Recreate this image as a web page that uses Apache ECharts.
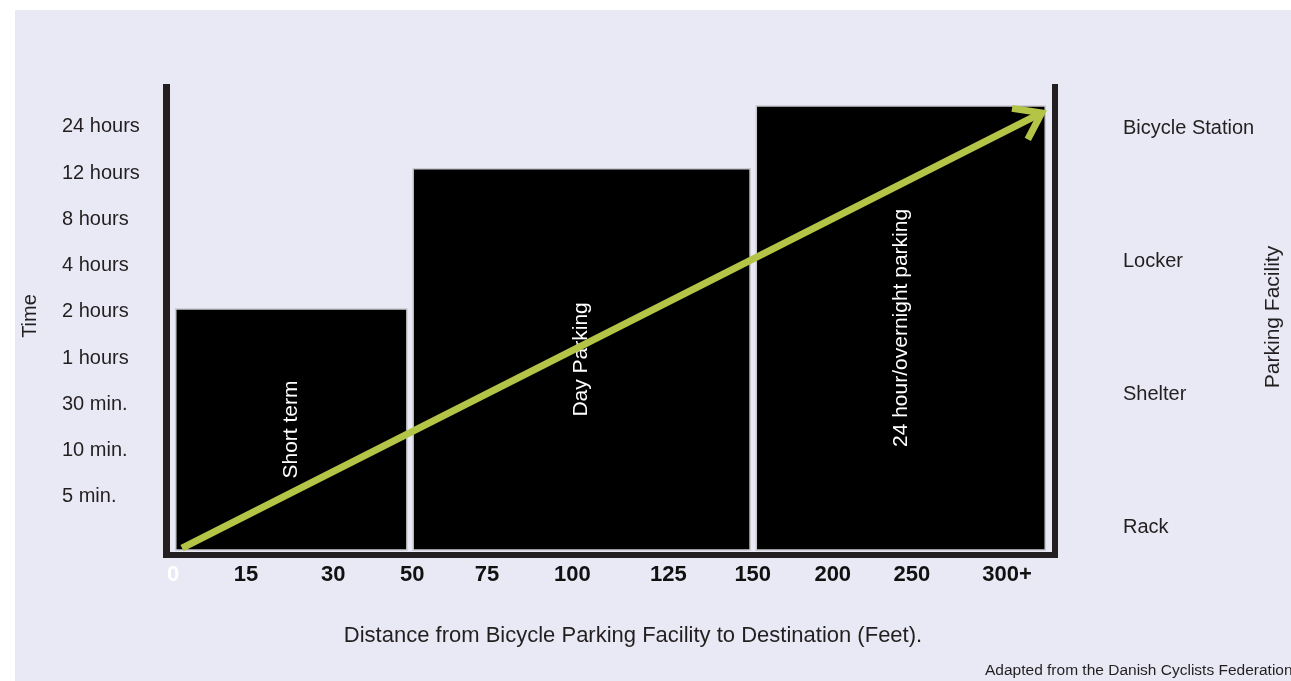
<!DOCTYPE html>
<html>
<head>
<meta charset="utf-8">
<script src="https://cdn.jsdelivr.net/npm/echarts@6/dist/echarts.min.js"></script>
<style>
html,body{margin:0;padding:0;background:#fff;}
#chart{width:1291px;height:681px;}
</style>
</head>
<body>
<div id="chart"></div>
<script>
// ---- data ----
const xTickLabels = ['0','15','30','50','75','100','125','150','200','250','300+'];
// where each distance label sits along the (non-linear) distance axis, in axis units 0..10
const xTickPos = [0.08, 0.90, 1.88, 2.77, 3.61, 4.57, 5.65, 6.60, 7.50, 8.39, 9.46];
const timeLabels = ['5 min.','10 min.','30 min.','1 hours','2 hours','4 hours','8 hours','12 hours','24 hours']; // levels 1..9
const facilityLabels = ['Rack','Shelter','Locker','Bicycle Station']; // levels 0..3
const zoneNames = ['Short term','Day Parking','24 hour/overnight parking'];
const zoneStart = [0.11, 2.78, 6.64];
const zoneEnd = [2.71, 6.57, 9.89];
const zoneTop = [5.06, 8.09, 9.45];
const arrowFrom = [0.18, -0.11];
const arrowTo = [9.85, 9.30];

const TXT = '#231f20';
const FONT = '"Liberation Sans", Arial, Helvetica, sans-serif';
const barBase = -0.15;

const chart = echarts.init(document.getElementById('chart'), null, {renderer:'canvas'});

const option = {
  animation: false,
  backgroundColor: '#ffffff',
  textStyle: {fontFamily: FONT},
  graphic: [
    {type:'rect', z:-10, silent:true, shape:{x:15, y:10, width:1291, height:700}, style:{fill:'#e8e9f5'}},
    {type:'text', x:30, y:316, rotation:Math.PI/2, style:{text:'Time', align:'center', verticalAlign:'middle', fill:TXT, font:'20px ' + FONT}},
    {type:'text', x:1273, y:317, rotation:Math.PI/2, style:{text:'Parking Facility', align:'center', verticalAlign:'middle', fill:TXT, font:'21px ' + FONT}},
    {type:'text', x:633, y:636, style:{text:'Distance from Bicycle Parking Facility to Destination (Feet).', align:'center', verticalAlign:'middle', fill:TXT, font:'22px ' + FONT}},
    {type:'text', x:985, y:671, style:{text:'Adapted from the Danish Cyclists Federation', align:'left', verticalAlign:'middle', fill:TXT, font:'15.5px ' + FONT}}
  ],
  grid: {left:166, right:236, top:84, bottom:126.4, containLabel:false, outerBoundsMode:'none'},
  xAxis: {
    type:'value', min:0, max:10,
    splitLine:{show:false}, axisTick:{show:false},
    axisLine:{show:true, onZero:false, lineStyle:{color:TXT, width:6, cap:'square'}},
    axisLabel:{
      customValues: xTickPos, margin:9, showMinLabel:true, showMaxLabel:true,
      formatter: function(v){
        let idx = 0, best = 1e9;
        xTickPos.forEach((p,i)=>{ if (Math.abs(p-v) < best){best=Math.abs(p-v); idx=i;} });
        return idx === 0 ? '{w|' + xTickLabels[idx] + '}' : '{b|' + xTickLabels[idx] + '}';
      },
      rich:{
        w:{color:'#ffffff', fontWeight:'bold', fontSize:22, fontFamily:FONT},
        b:{color:'#111111', fontWeight:'bold', fontSize:22, fontFamily:FONT}
      }
    }
  },
  yAxis: [
    {
      type:'value', position:'left', min:-0.25, max:9.924,
      splitLine:{show:false}, axisTick:{show:false},
      axisLine:{show:true, onZero:false, lineStyle:{color:TXT, width:7, cap:'butt'}},
      axisLabel:{
        customValues:[1,2,3,4,5,6,7,8,9], margin:104, align:'left',
        color:TXT, fontSize:20, fontFamily:FONT,
        formatter: v => timeLabels[Math.round(v)-1] || ''
      }
    },
    {
      type:'value', position:'right', min:-0.2075, max:3.331,
      splitLine:{show:false}, axisTick:{show:false},
      axisLine:{show:true, onZero:false, lineStyle:{color:TXT, width:6, cap:'butt'}},
      axisLabel:{
        customValues:[0,1,2,3], margin:68, align:'left',
        color:TXT, fontSize:20, fontFamily:FONT,
        formatter: v => facilityLabels[Math.round(v)] || ''
      }
    }
  ],
  series: [
    {
      type:'custom', name:'zones', coordinateSystem:'cartesian2d', xAxisIndex:0, yAxisIndex:0,
      silent:true,
      data: zoneNames.map((n,i)=>[zoneStart[i], zoneEnd[i], zoneTop[i], i]),
      encode:{x:[0,1], y:2},
      renderItem: function(params, api){
        const s = api.value(0), e = api.value(1), t = api.value(2), i = api.value(3);
        const p1 = api.coord([s, t]);
        const p2 = api.coord([e, barBase]);
        const cx = (p1[0]+p2[0])/2, cy = (p1[1]+p2[1])/2;
        return {
          type:'group',
          children:[
            {type:'rect', shape:{x:p1[0], y:p1[1], width:p2[0]-p1[0], height:p2[1]-p1[1]},
             style:{fill:'#000000', stroke:'#c9c9cf', lineWidth:1.5}},
            {type:'text', x:cx, y:cy, rotation:Math.PI/2,
             style:{text:zoneNames[i], align:'center', verticalAlign:'middle', fill:'#ffffff', font:'21px ' + FONT}}
          ]
        };
      }
    },
    {
      type:'custom', name:'arrow', coordinateSystem:'cartesian2d', xAxisIndex:0, yAxisIndex:0,
      silent:true, z:5,
      data:[[arrowFrom[0], arrowFrom[1], arrowTo[0], arrowTo[1]]],
      encode:{x:[0,2], y:[1,3]},
      renderItem: function(params, api){
        const a = api.coord([api.value(0), api.value(1)]);
        const b = api.coord([api.value(2), api.value(3)]);
        const ang = Math.atan2(b[1]-a[1], b[0]-a[0]);
        const L = 30, spread = 0.62;
        const l1 = [b[0] - L*Math.cos(ang - spread), b[1] - L*Math.sin(ang - spread)];
        const l2 = [b[0] - L*Math.cos(ang + spread), b[1] - L*Math.sin(ang + spread)];
        const end = [b[0] - 4*Math.cos(ang), b[1] - 4*Math.sin(ang)];
        const st = {stroke:'#b3c447', lineWidth:7, fill:null, lineCap:'butt', lineJoin:'miter'};
        return {
          type:'group',
          children:[
            {type:'line', shape:{x1:a[0], y1:a[1], x2:end[0], y2:end[1]}, style:st},
            {type:'polyline', shape:{points:[l1, b, l2]}, style:st}
          ]
        };
      }
    }
  ]
};
chart.setOption(option);
</script>
</body>
</html>
